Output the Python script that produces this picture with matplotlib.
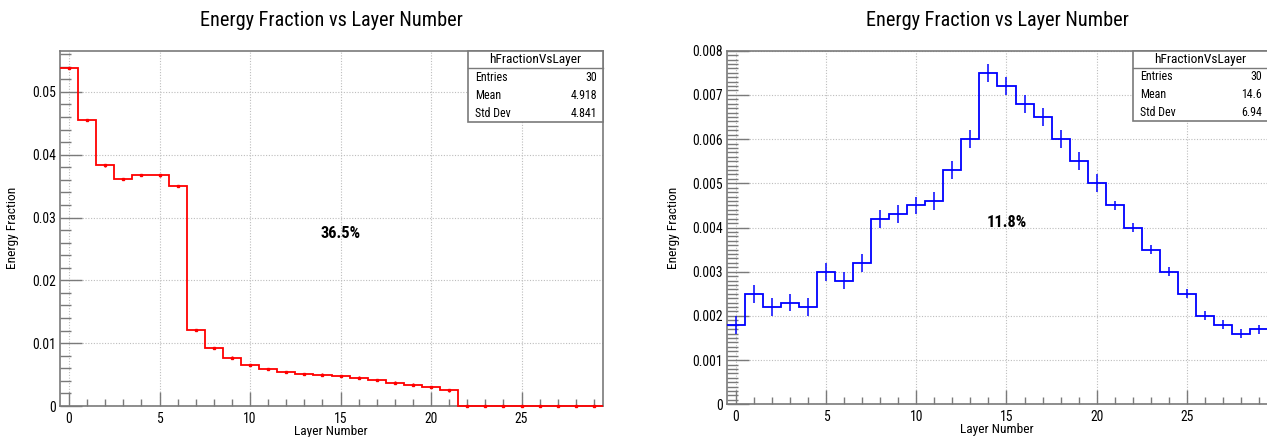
import numpy as np
import matplotlib
matplotlib.use("Agg")
import matplotlib.pyplot as plt
from matplotlib import font_manager
from matplotlib.ticker import MultipleLocator, FuncFormatter
from matplotlib.patches import Rectangle

# ---------------- data ----------------
layers = list(range(30))
left_values = [0.0538, 0.0455, 0.0383, 0.0361, 0.0368, 0.0367, 0.0350,
               0.0121, 0.0092, 0.0077, 0.0065, 0.0059, 0.0054, 0.0051,
               0.0050, 0.0048, 0.0045, 0.0041, 0.0037, 0.0034, 0.0030,
               0.0025, 0, 0, 0, 0, 0, 0, 0, 0]
left_errors = [0.0002] * 22 + [0.0] * 8
right_values = [0.0018, 0.0025, 0.0022, 0.0023, 0.0022, 0.0030, 0.0028,
                0.0032, 0.0042, 0.0043, 0.0045, 0.0046, 0.0053, 0.0060,
                0.0075, 0.0072, 0.0068, 0.0065, 0.0060, 0.0055, 0.0050,
                0.0045, 0.0040, 0.0035, 0.0030, 0.0025, 0.0020, 0.0018,
                0.0016, 0.0017]
right_errors = [0.0002] * 21 + [0.0001] * 9

stats_title = "hFractionVsLayer"
left_stats = [("Entries", "30"), ("Mean", "4.918"), ("Std Dev", "4.841")]
right_stats = [("Entries", "30"), ("Mean", "14.6"), ("Std Dev", "6.94")]
left_label = "36.5%"
right_label = "11.8%"
title = "Energy Fraction vs Layer Number"
xlabel = "Layer Number"
ylabel = "Energy Fraction"

# ---------------- fonts ----------------
installed = {f.name for f in font_manager.fontManager.ttflist}
narrow = None
for cand in ['Liberation Sans Narrow', 'Nimbus Sans Narrow', 'Arial Narrow',
             'Roboto Condensed', 'Open Sans Condensed']:
    if cand in installed:
        narrow = cand
        break
if narrow:
    plt.rcParams['font.family'] = [narrow, 'Liberation Sans', 'DejaVu Sans']
    FS = dict(title=14.6, stat=8.6, head=9.6, tick=9.8, label=9.6, pct=11.8)
else:
    plt.rcParams['font.family'] = ['Liberation Sans', 'DejaVu Sans']
    FS = dict(title=13.5, stat=8, head=9.3, tick=9, label=9, pct=10.5)

W, H = 1267, 437
fig = plt.figure(figsize=(W / 100, H / 100), dpi=100)

ax_l = fig.add_axes([60 / W, (H - 406) / H, 543 / W, 355 / H])
ax_r = fig.add_axes([726.7 / W, (H - 404.3) / H, 541.5 / W, 353.6 / H])

SPINE = '#7a7a7a'
edges = np.arange(-0.5, 30.5, 1.0)


def style(ax, ymax, ymajor, yminor):
    ax.set_xlim(-0.5, 29.5)
    ax.set_ylim(0, ymax)
    ax.xaxis.set_major_locator(MultipleLocator(5))
    ax.xaxis.set_minor_locator(MultipleLocator(1))
    ax.yaxis.set_major_locator(MultipleLocator(ymajor))
    ax.yaxis.set_minor_locator(MultipleLocator(yminor))
    ax.yaxis.set_major_formatter(FuncFormatter(lambda v, p: f'{v:g}'))
    ax.tick_params(axis='x', which='major', direction='in', length=10,
                   width=1, color=SPINE, labelsize=FS['tick'], pad=4)
    ax.tick_params(axis='x', which='minor', direction='in', length=5,
                   width=1, color=SPINE)
    ax.tick_params(axis='y', which='major', direction='in', length=16,
                   width=1, color=SPINE, labelsize=FS['tick'], pad=3)
    ax.tick_params(axis='y', which='minor', direction='in', length=8,
                   width=1, color=SPINE)
    for s in ax.spines.values():
        s.set_color(SPINE)
        s.set_linewidth(1.2)
    ax.grid(True, which='major', linestyle=(0, (1, 1.5)), color='#bdbdbd',
            linewidth=0.8)
    ax.set_axisbelow(True)


style(ax_l, 0.0565, 0.01, 0.002)
style(ax_r, 0.008, 0.001, 0.0001)

# left histogram
ax_l.stairs(left_values, edges, baseline=None, color='#ff0000',
            linewidth=1.3, clip_on=False, zorder=3)
ax_l.errorbar(layers, left_values, yerr=left_errors, fmt='s', ms=2,
              color='#ff0000', elinewidth=1, capsize=0, zorder=4,
              clip_on=False)

# right histogram
ax_r.stairs(right_values, edges, baseline=None, color='#0000ff',
            linewidth=1.3, zorder=3)
ax_r.errorbar(layers, right_values, yerr=right_errors, fmt='none',
              ecolor='#0000ff', elinewidth=1.1, capsize=0, zorder=4)

ax_l.text(15, 0.0275, left_label, ha='center', va='center',
          fontsize=FS['pct'], fontweight='bold')
ax_r.text(15, 0.00412, right_label, ha='center', va='center',
          fontsize=FS['pct'], fontweight='bold')


def stats_box(ax, rows, x0, y0, ydiv):
    ax.add_patch(Rectangle((x0, y0), 1.0 - x0, 1.0 - y0, transform=ax.transAxes,
                           facecolor='white', edgecolor=SPINE, linewidth=1.2,
                           zorder=10, clip_on=False))
    ax.plot([x0, 1.0], [ydiv, ydiv], transform=ax.transAxes, color=SPINE,
            linewidth=1.0, zorder=11, clip_on=False)
    ax.text((x0 + 1.0) / 2, (1.0 + ydiv) / 2, stats_title, transform=ax.transAxes,
            ha='center', va='center', fontsize=FS['head'], zorder=12)
    n = len(rows)
    step = (ydiv - y0) / n
    for i, (k, v) in enumerate(rows):
        yy = ydiv - step * (i + 0.5)
        ax.text(x0 + 0.013, yy, k, transform=ax.transAxes, ha='left',
                va='center', fontsize=FS['stat'], zorder=12)
        ax.text(0.989, yy, v, transform=ax.transAxes, ha='right',
                va='center', fontsize=FS['stat'], zorder=12)


stats_box(ax_l, left_stats, 0.751, 0.800, 0.952)
stats_box(ax_r, right_stats, 0.750, 0.801, 0.951)

# titles and axis labels
fig.text(331 / W, 1 - 20 / H, title, ha='center', va='center', fontsize=FS['title'])
fig.text(997 / W, 1 - 20 / H, title, ha='center', va='center', fontsize=FS['title'])
fig.text(331 / W, 1 - 431 / H, xlabel, ha='center', va='center', fontsize=FS['label'])
fig.text(997 / W, 1 - 430 / H, xlabel, ha='center', va='center', fontsize=FS['label'])
fig.text(13 / W, 1 - 228 / H, ylabel, ha='center', va='center', fontsize=FS['label'],
         rotation=90)
fig.text(673 / W, 1 - 228 / H, ylabel, ha='center', va='center', fontsize=FS['label'],
         rotation=90)

fig.savefig("out.png", dpi=100)
